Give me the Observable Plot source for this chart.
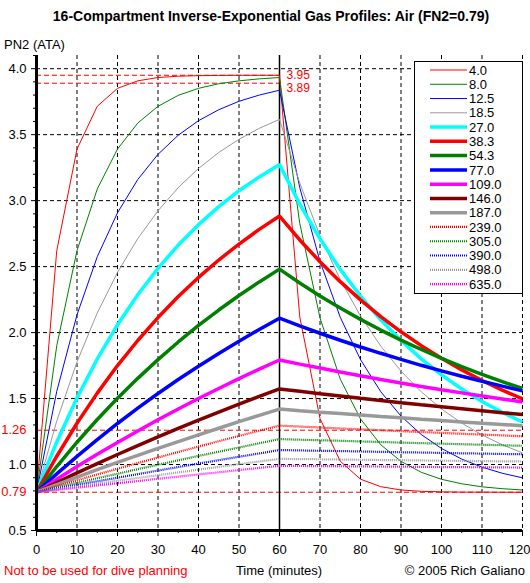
<!DOCTYPE html>
<html>
<head>
<meta charset="utf-8">
<script src="https://cdn.jsdelivr.net/npm/d3@7"></script>
<script src="https://cdn.jsdelivr.net/npm/@observablehq/plot@0.6"></script>
<style>
  html, body { margin: 0; padding: 0; background: #fff; }
  #chart { width: 530px; height: 583px; }
  svg text { font-family: "Liberation Sans", Arial, sans-serif; }
</style>
</head>
<body>
<div id="chart"></div>
<script>
// ---- Data ----
const times = [0,5,10,15,20,25,30,35,40,45,50,55,60,65,70,75,80,85,90,95,100,105,110,115,120];
const halfTimeLabels = ["4.0","8.0","12.5","18.5","27.0","38.3","54.3","77.0","109.0","146.0","187.0","239.0","305.0","390.0","498.0","635.0"];

const c4_0   = [0.79,2.621,3.391,3.715,3.851,3.908,3.933,3.943,3.947,3.949,3.950,3.950,3.950,2.119,1.349,1.025,0.889,0.832,0.807,0.797,0.793,0.791,0.791,0.790,0.790];
const c8_0   = [0.79,1.901,2.621,3.088,3.391,3.588,3.715,3.798,3.851,3.886,3.908,3.923,3.933,2.828,2.111,1.647,1.346,1.150,1.024,0.941,0.888,0.854,0.831,0.817,0.807];
const c12_5  = [0.79,1.555,2.135,2.575,2.908,3.160,3.351,3.496,3.606,3.689,3.753,3.800,3.837,3.099,2.540,2.116,1.795,1.552,1.367,1.227,1.122,1.041,0.980,0.934,0.899];
const c18_5  = [0.79,1.330,1.778,2.149,2.456,2.712,2.923,3.099,3.244,3.365,3.465,3.548,3.616,3.133,2.733,2.401,2.126,1.898,1.708,1.551,1.421,1.314,1.224,1.150,1.088];
const c27_0  = [0.79,1.171,1.505,1.800,2.059,2.287,2.487,2.663,2.818,2.955,3.075,3.180,3.273,2.974,2.711,2.479,2.276,2.097,1.940,1.801,1.679,1.572,1.478,1.395,1.322];
const c38_3  = [0.79,1.063,1.313,1.541,1.750,1.940,2.114,2.273,2.418,2.550,2.671,2.782,2.883,2.702,2.537,2.386,2.248,2.121,2.006,1.901,1.805,1.717,1.637,1.564,1.497];
const c54_3  = [0.79,0.985,1.169,1.341,1.502,1.653,1.795,1.929,2.054,2.171,2.281,2.384,2.481,2.376,2.278,2.186,2.100,2.019,1.943,1.872,1.805,1.742,1.683,1.628,1.576];
const c77_0  = [0.79,0.929,1.062,1.189,1.311,1.427,1.538,1.644,1.745,1.842,1.935,2.024,2.109,2.051,1.995,1.942,1.891,1.843,1.797,1.752,1.710,1.669,1.631,1.594,1.558];
const c109_0 = [0.79,0.889,0.985,1.078,1.167,1.254,1.339,1.421,1.500,1.576,1.651,1.723,1.792,1.761,1.731,1.701,1.673,1.645,1.618,1.592,1.567,1.543,1.519,1.497,1.474];
const c146_0 = [0.79,0.864,0.937,1.007,1.076,1.144,1.210,1.274,1.337,1.398,1.458,1.516,1.573,1.555,1.537,1.520,1.502,1.486,1.469,1.453,1.438,1.423,1.408,1.393,1.379];
const c187_0 = [0.79,0.848,0.905,0.961,1.016,1.070,1.123,1.174,1.225,1.275,1.325,1.373,1.420,1.408,1.397,1.386,1.375,1.364,1.354,1.343,1.333,1.323,1.313,1.304,1.294];
const c239_0 = [0.79,0.836,0.880,0.925,0.968,1.011,1.053,1.095,1.136,1.177,1.217,1.256,1.295,1.288,1.281,1.273,1.267,1.260,1.253,1.246,1.240,1.233,1.227,1.221,1.214];
const c305_0 = [0.79,0.826,0.861,0.896,0.930,0.965,0.998,1.032,1.065,1.097,1.129,1.161,1.193,1.188,1.184,1.180,1.175,1.171,1.166,1.162,1.158,1.154,1.150,1.146,1.142];
const c390_0 = [0.79,0.818,0.846,0.873,0.900,0.927,0.954,0.981,1.007,1.033,1.059,1.084,1.110,1.107,1.104,1.102,1.099,1.096,1.093,1.091,1.088,1.085,1.083,1.080,1.078];
const c498_0 = [0.79,0.812,0.834,0.855,0.877,0.898,0.919,0.940,0.961,0.982,1.003,1.023,1.043,1.041,1.040,1.038,1.036,1.034,1.033,1.031,1.029,1.028,1.026,1.024,1.023];
const c635_0 = [0.79,0.807,0.824,0.841,0.858,0.875,0.892,0.908,0.925,0.941,0.958,0.974,0.990,0.989,0.988,0.987,0.986,0.985,0.984,0.982,0.981,0.980,0.979,0.978,0.977];

const xMajor = [0,10,20,30,40,50,60,70,80,90,100,110,120];
const xLastLabel = [120];
const xMinor = [5,15,25,35,45,55,65,75,85,95,105,115];
const xGrid = [10,20,30,40,50,60,70,80,90,100,110,120];
const yMajor = [0.5,1.0,1.5,2.0,2.5,3.0,3.5,4.0];
const yMinor = [0.6,0.7,0.8,0.9,1.1,1.2,1.3,1.4,1.6,1.7,1.8,1.9,2.1,2.2,2.3,2.4,2.6,2.7,2.8,2.9,3.1,3.2,3.3,3.4,3.6,3.7,3.8,3.9,4.1];
const yGrid = [1.0,1.5,2.0,2.5,3.0,3.5,4.0];
const refFull = [0.79, 1.26];      // red dashed, full width
const refDescent = [3.95, 3.89];   // red dashed, 0-60 min
const ascentTime = [60];

// ---- Styles (kept apart from data) ----
const seriesValues = [c4_0,c8_0,c12_5,c18_5,c27_0,c38_3,c54_3,c77_0,c109_0,c146_0,c187_0,c239_0,c305_0,c390_0,c498_0,c635_0];
const colors = ["#ff0000","#008000","#0000ff","#999999","#00ffff","#ff0000","#008000","#0000ff","#ff00ff","#800000","#999999","#ff0000","#008000","#0000ff","#999999","#ff00ff"];
const widths = [1,1,1,1,3.5,3.5,3.5,3.5,3.5,3.5,3.5,2.2,2.2,2.2,2.2,2.2];
const dashes = [null,null,null,null,null,null,null,null,null,null,null,"1,1","1,1","1,1","1,1","1,1"];

const lineMarks = seriesValues.map((vals, s) =>
  Plot.line(vals, {
    x: (d, i) => times[i],
    y: d => d,
    stroke: colors[s],
    strokeWidth: widths[s],
    strokeDasharray: dashes[s] || undefined,
    strokeLinejoin: "miter",
    strokeLinecap: "butt"
  })
);

const plot = Plot.plot({
  width: 530,
  height: 583,
  marginLeft: 36,
  marginRight: 8,
  marginTop: 55,
  marginBottom: 53,
  x: { domain: [0, 120], label: null },
  y: { domain: [0.5, 4.1], label: null },
  style: { fontFamily: "'Liberation Sans', Arial, sans-serif", fontSize: "12.5px", background: "white", color: "black" },
  marks: [
    Plot.ruleX(xGrid, { stroke: "black", strokeDasharray: "4,3" }),
    Plot.ruleY(yGrid, { stroke: "black", strokeDasharray: "4,3" }),
    Plot.ruleY(refFull, { stroke: "red", strokeDasharray: "5,3" }),
    Plot.ruleY(refDescent, { x1: 0, x2: 60, stroke: "red", strokeDasharray: "5,3" }),
    Plot.ruleX(ascentTime, { stroke: "black", strokeWidth: 1.5 }),
    ...lineMarks,
    Plot.axisX({ ticks: xMajor, tickSize: 6, tickPadding: 8, tickFormat: d => (xLastLabel.includes(d) ? "" : String(d)), fontSize: 13, label: null }),
    Plot.text(xLastLabel, { x: d => d, y: 0.5, text: d => String(d), textAnchor: "end", dx: 8, dy: 19, fontSize: 13 }),
    Plot.axisX({ ticks: xMinor, tickSize: 3, tickFormat: () => "", label: null }),
    Plot.axisY({ ticks: yMajor, tickSize: 5, tickPadding: 5, tickFormat: d => d.toFixed(1), fontSize: 13, label: null }),
    Plot.axisY({ ticks: yMinor, tickSize: 3, tickFormat: () => "", label: null }),
    Plot.ruleX([0], { stroke: "black", strokeWidth: 3 }),
    Plot.ruleY([0.5], { stroke: "black", strokeWidth: 3 }),
    Plot.text(refFull, { x: 0, y: d => d, text: d => d.toFixed(2), textAnchor: "end", dx: -10, fill: "red", fontSize: 13 }),
    Plot.text([refDescent[0]], { x: 60, y: d => d, text: d => d.toFixed(2), textAnchor: "start", dx: 7, dy: 0, fill: "red", fontSize: 12 }),
    Plot.text([refDescent[1]], { x: 60, y: d => d, text: d => d.toFixed(2), textAnchor: "start", dx: 7, dy: 5, fill: "red", fontSize: 12 })
  ]
});

document.getElementById("chart").appendChild(plot);

// ---- Titles and captions ----
const svg = d3.select(plot);
const font = "'Liberation Sans', Arial, sans-serif";
svg.append("text").attr("x", 271).attr("y", 21).attr("text-anchor", "middle")
  .attr("font-family", font).attr("font-weight", "bold").attr("font-size", 14)
  .text("16-Compartment Inverse-Exponential Gas Profiles: Air (FN2=0.79)");
svg.append("text").attr("x", 4).attr("y", 49).attr("text-anchor", "start").attr("font-family", font).attr("font-size", 13)
  .text("PN2 (ATA)");
svg.append("text").attr("x", 4).attr("y", 575).attr("text-anchor", "start").attr("font-family", font).attr("font-size", 13).attr("fill", "red")
  .text("Not to be used for dive planning");
svg.append("text").attr("x", 279).attr("y", 575).attr("text-anchor", "middle").attr("font-family", font).attr("font-size", 13)
  .text("Time (minutes)");
svg.append("text").attr("x", 525).attr("y", 575).attr("text-anchor", "end").attr("font-family", font).attr("font-size", 13)
  .text("© 2005 Rich Galiano");

// ---- Legend ----
const lg = svg.append("g");
lg.append("rect").attr("x", 414.5).attr("y", 61.5).attr("width", 108).attr("height", 232)
  .attr("fill", "white").attr("stroke", "black");
halfTimeLabels.forEach((lab, i) => {
  const y = 70 + i * 14.27;
  lg.append("line").attr("x1", 430).attr("x2", 467).attr("y1", y).attr("y2", y)
    .attr("stroke", colors[i]).attr("stroke-width", widths[i])
    .attr("stroke-dasharray", dashes[i] || null);
  lg.append("text").attr("x", 469).attr("y", y).attr("dy", "0.36em").attr("text-anchor", "start")
    .attr("font-family", font).attr("font-size", 13).text(lab);
});
</script>
</body>
</html>
